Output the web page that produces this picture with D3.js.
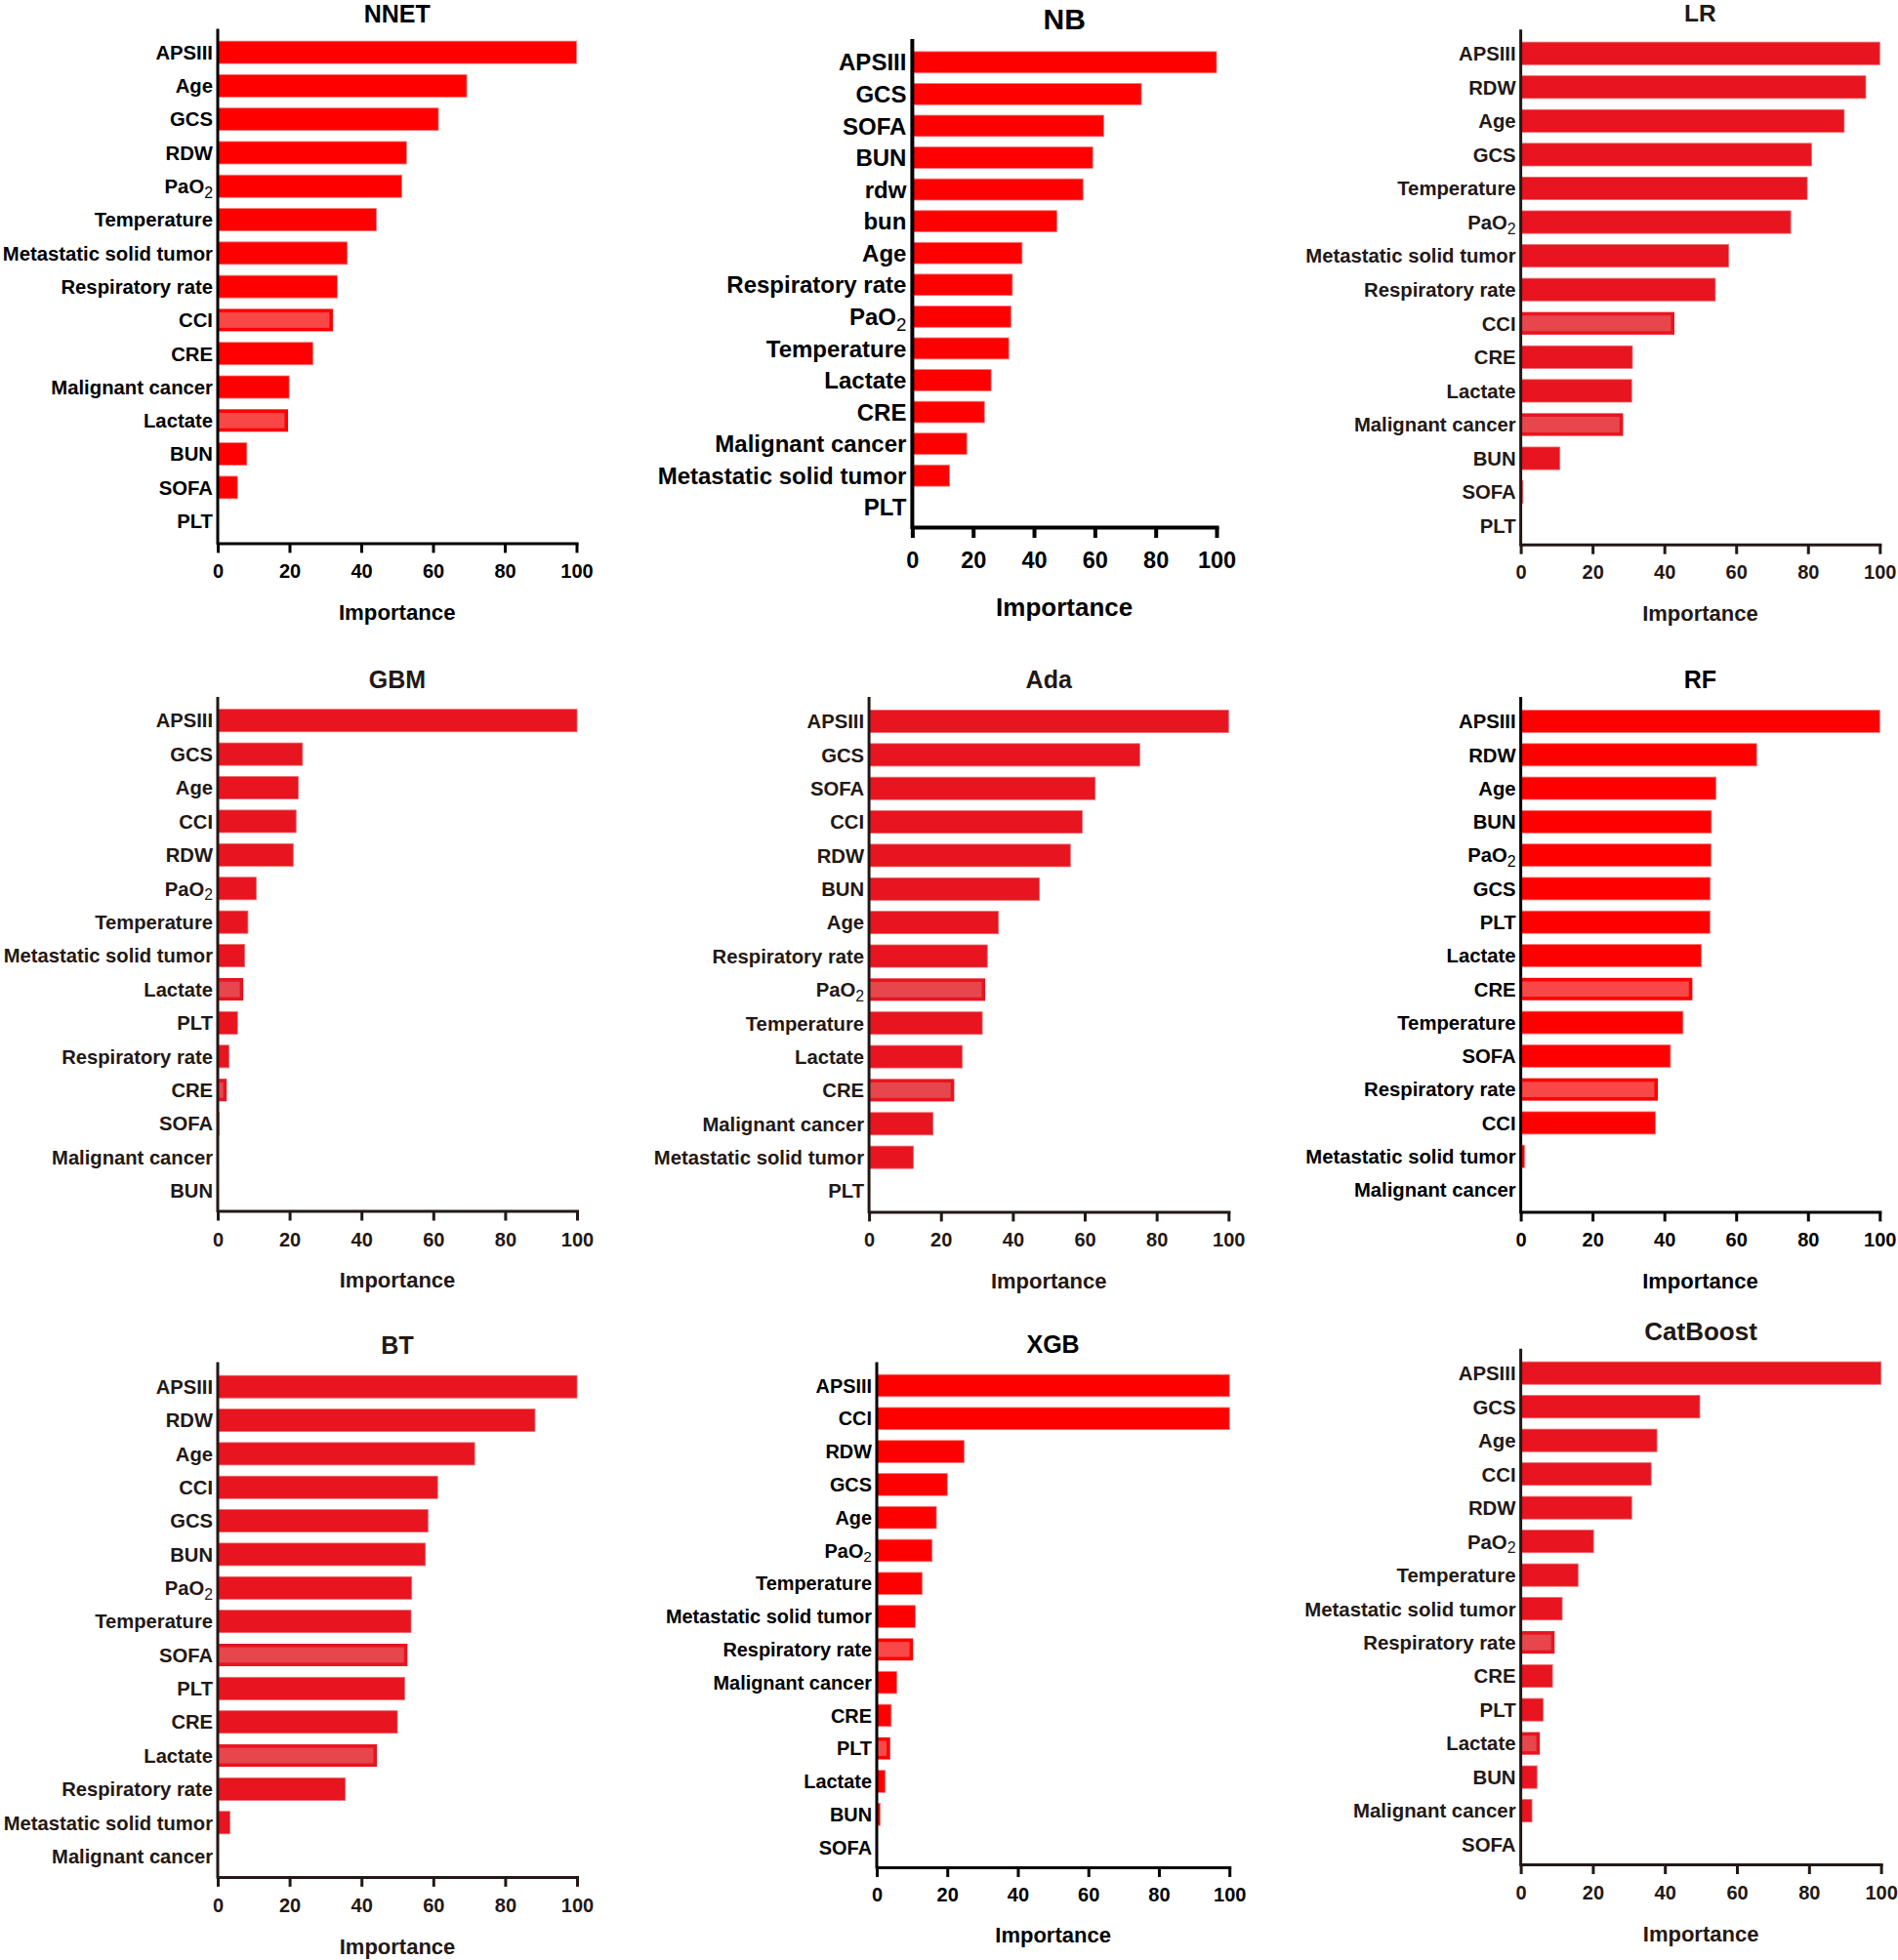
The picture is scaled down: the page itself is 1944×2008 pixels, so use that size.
<!DOCTYPE html>
<html>
<head>
<meta charset="utf-8">
<script src="https://cdn.jsdelivr.net/npm/d3@7/dist/d3.min.js"></script>
<style>
  html, body { margin: 0; padding: 0; background: #ffffff; }
  svg { display: block; }
</style>
</head>
<body>
<svg id="chart" width="1944" height="2008"></svg>
<script>
// ---------------- DATA ----------------
const xTicks = [0, 20, 40, 60, 80, 100];
const axisTitle = "Importance";

const nnetCategories = ["APSIII","Age","GCS","RDW","PaO2","Temperature","Metastatic solid tumor","Respiratory rate","CCI","CRE","Malignant cancer","Lactate","BUN","SOFA","PLT"];
const nnetValues     = [100, 69.4, 61.5, 52.6, 51.3, 44.2, 36.1, 33.3, 32.1, 26.5, 19.9, 19.6, 8.1, 5.5, 0];
const nnetLight      = ["CCI","Lactate"];

const nbCategories = ["APSIII","GCS","SOFA","BUN","rdw","bun","Age","Respiratory rate","PaO2","Temperature","Lactate","CRE","Malignant cancer","Metastatic solid tumor","PLT"];
const nbValues     = [100, 75.3, 62.9, 59.3, 56.1, 47.5, 36.1, 32.9, 32.4, 31.7, 25.9, 23.7, 17.9, 12.2, 0];
const nbLight      = [];

const lrCategories = ["APSIII","RDW","Age","GCS","Temperature","PaO2","Metastatic solid tumor","Respiratory rate","CCI","CRE","Lactate","Malignant cancer","BUN","SOFA","PLT"];
const lrValues     = [100, 96.1, 90.1, 81.0, 79.8, 75.2, 57.9, 54.2, 42.8, 31.1, 30.9, 28.5, 10.9, 0.6, 0];
const lrLight      = ["CCI","Malignant cancer"];

const gbmCategories = ["APSIII","GCS","Age","CCI","RDW","PaO2","Temperature","Metastatic solid tumor","Lactate","PLT","Respiratory rate","CRE","SOFA","Malignant cancer","BUN"];
const gbmValues     = [100, 23.6, 22.4, 21.8, 21.0, 10.7, 8.4, 7.5, 7.1, 5.5, 3.1, 2.5, 0.4, 0, 0];
const gbmLight      = ["Lactate","CRE"];

const adaCategories = ["APSIII","GCS","SOFA","CCI","RDW","BUN","Age","Respiratory rate","PaO2","Temperature","Lactate","CRE","Malignant cancer","Metastatic solid tumor","PLT"];
const adaValues     = [100, 75.3, 62.9, 59.3, 56.0, 47.4, 36.0, 32.9, 32.3, 31.5, 25.9, 23.7, 17.8, 12.3, 0];
const adaLight      = ["PaO2","CRE"];

const rfCategories = ["APSIII","RDW","Age","BUN","PaO2","GCS","PLT","Lactate","CRE","Temperature","SOFA","Respiratory rate","CCI","Metastatic solid tumor","Malignant cancer"];
const rfValues     = [100, 65.7, 54.4, 53.1, 53.0, 52.8, 52.7, 50.3, 47.8, 45.2, 41.7, 38.2, 37.5, 1.1, 0];
const rfLight      = ["CRE","Respiratory rate"];

const btCategories = ["APSIII","RDW","Age","CCI","GCS","BUN","PaO2","Temperature","SOFA","PLT","CRE","Lactate","Respiratory rate","Metastatic solid tumor","Malignant cancer"];
const btValues     = [100, 88.3, 71.5, 61.2, 58.5, 57.8, 54.0, 53.8, 52.8, 52.0, 50.0, 44.3, 35.5, 3.4, 0];
const btLight      = ["SOFA","Lactate"];

const xgbCategories = ["APSIII","CCI","RDW","GCS","Age","PaO2","Temperature","Metastatic solid tumor","Respiratory rate","Malignant cancer","CRE","PLT","Lactate","BUN","SOFA"];
const xgbValues     = [100, 100, 24.8, 20.0, 16.9, 15.7, 12.9, 10.9, 10.3, 5.7, 4.1, 3.8, 2.4, 1.0, 0];
const xgbLight      = ["Respiratory rate","PLT"];

const catCategories = ["APSIII","GCS","Age","CCI","RDW","PaO2","Temperature","Metastatic solid tumor","Respiratory rate","CRE","PLT","Lactate","BUN","Malignant cancer","SOFA"];
const catValues     = [100, 49.7, 37.8, 36.2, 30.8, 20.2, 15.9, 11.5, 9.4, 8.8, 6.2, 5.3, 4.5, 3.1, 0];
const catLight      = ["Respiratory rate","Lactate"];

// ---------------- STYLE ----------------
const FONT = "'Liberation Sans', Arial, Helvetica, sans-serif";
const schemes = {
  bright:  { bar: "#FF0000", edge: "#ff7a7a", light: "#F84747", ink: "#000000" },
  crimson: { bar: "#E8141F", edge: "#ef6b71", light: "#E8464D", ink: "#231815" }
};

// ---------------- LAYOUT ----------------
const panels = [
  { title: "NNET", cats: nnetCategories, vals: nnetValues, light: nnetLight, scheme: "bright",
    x0: 223, x100: 590.5, yTop: 29.5, xAxisY: 556.4, c0: 53.6, c14: 533.7,
    titleY: 13.8, tickY: 585, impY: 627, titleFs: 25, labFs: 20.3, tickFs: 20, impFs: 22.2, sw: 3, tick: 10, lpad: 5 },
  { title: "NB", cats: nbCategories, vals: nbValues, light: nbLight, scheme: "bright",
    x0: 934.4, x100: 1246, yTop: 40, xAxisY: 540, c0: 63.8, c14: 519.8,
    titleY: 18.9, tickY: 573.7, impY: 622, titleFs: 30, labFs: 24, tickFs: 23.5, impFs: 26, sw: 4, tick: 11, lpad: 6 },
  { title: "LR", cats: lrCategories, vals: lrValues, light: lrLight, scheme: "crimson",
    x0: 1557.6, x100: 1925.3, yTop: 30.3, xAxisY: 557.7, c0: 54.7, c14: 538.7,
    titleY: 13.5, tickY: 585.9, impY: 628.4, titleFs: 24.5, labFs: 20.3, tickFs: 20, impFs: 22, sw: 3, tick: 10, lpad: 5 },
  { title: "GBM", cats: gbmCategories, vals: gbmValues, light: gbmLight, scheme: "crimson",
    x0: 223, x100: 591, yTop: 714, xAxisY: 1240.5, c0: 738.2, c14: 1220,
    titleY: 695.6, tickY: 1269.6, impY: 1311, titleFs: 25, labFs: 20.2, tickFs: 20, impFs: 22, sw: 3, tick: 10, lpad: 5 },
  { title: "Ada", cats: adaCategories, vals: adaValues, light: adaLight, scheme: "crimson",
    x0: 890.1, x100: 1258.3, yTop: 714, xAxisY: 1241.4, c0: 739, c14: 1220,
    titleY: 696.5, tickY: 1269.6, impY: 1311.9, titleFs: 25, labFs: 20.3, tickFs: 20, impFs: 22, sw: 3, tick: 10, lpad: 5 },
  { title: "RF", cats: rfCategories, vals: rfValues, light: rfLight, scheme: "bright",
    x0: 1557.6, x100: 1925.3, yTop: 714, xAxisY: 1241.4, c0: 739, c14: 1219,
    titleY: 696.5, tickY: 1269.6, impY: 1311.9, titleFs: 25, labFs: 20.3, tickFs: 20, impFs: 22, sw: 3, tick: 10, lpad: 5 },
  { title: "BT", cats: btCategories, vals: btValues, light: btLight, scheme: "crimson",
    x0: 223, x100: 591, yTop: 1395.4, xAxisY: 1922.9, c0: 1420.7, c14: 1901.6,
    titleY: 1378.3, tickY: 1952.3, impY: 1994, titleFs: 25, labFs: 20.2, tickFs: 20, impFs: 22, sw: 3, tick: 10, lpad: 5 },
  { title: "XGB", cats: xgbCategories, vals: xgbValues, light: xgbLight, scheme: "bright",
    x0: 898, x100: 1259.2, yTop: 1395.4, xAxisY: 1913, c0: 1419.5, c14: 1892.6,
    titleY: 1377.5, tickY: 1940.8, impY: 1982.5, titleFs: 25, labFs: 19.9, tickFs: 20, impFs: 22, sw: 3, tick: 10, lpad: 5 },
  { title: "CatBoost", cats: catCategories, vals: catValues, light: catLight, scheme: "crimson",
    x0: 1557.6, x100: 1926.6, yTop: 1381.8, xAxisY: 1910, c0: 1406.7, c14: 1889.6,
    titleY: 1363.4, tickY: 1938.6, impY: 1981.2, titleFs: 26, labFs: 20.4, tickFs: 20, impFs: 22, sw: 3, tick: 10, lpad: 5 }
];

const svg = d3.select("#chart");

function drawPanel(p) {
  const sc = schemes[p.scheme];
  const g = svg.append("g").attr("font-family", FONT).attr("font-weight", "bold");
  const n = p.cats.length;
  const step = (p.c14 - p.c0) / (n - 1);
  const x = d3.scaleLinear().domain([0, 100]).range([p.x0, p.x100]);
  const y = d3.scaleBand().domain(p.cats)
    .range([p.c0 - step / 2, p.c14 + step / 2])
    .paddingInner(0.33).paddingOuter(0.165);
  const bw = y.bandwidth();
  const data = p.cats.map((c, i) => ({ c, v: p.vals[i], light: p.light.includes(c) }));

  // bars
  g.append("g").selectAll("rect.bar").data(data.filter(d => d.v > 0)).join("rect")
    .attr("class", "bar")
    .attr("x", x(0))
    .attr("y", d => y(d.c))
    .attr("width", d => x(d.v) - x(0))
    .attr("height", bw)
    .attr("fill", sc.bar)
    .attr("stroke", d => d.light ? "none" : sc.edge)
    .attr("stroke-width", 0.8);

  // lighter inner fill for highlighted bars
  const inset = 3.6;
  g.append("g").selectAll("rect.inner").data(data.filter(d => d.light && (x(d.v) - x(0)) > inset * 2)).join("rect")
    .attr("class", "inner")
    .attr("x", x(0))
    .attr("y", d => y(d.c) + inset)
    .attr("width", d => x(d.v) - x(0) - inset)
    .attr("height", bw - 2 * inset)
    .attr("fill", sc.light);

  // x axis
  const xa = g.append("g").attr("transform", `translate(0,${p.xAxisY})`)
    .call(d3.axisBottom(x).tickValues(xTicks).tickSize(p.tick).tickSizeOuter(0).tickFormat(d3.format("d")));
  xa.select(".domain").attr("stroke", sc.ink).attr("stroke-width", p.sw).attr("stroke-linecap", "square");
  xa.selectAll(".tick line").attr("stroke", sc.ink).attr("stroke-width", p.sw);
  xa.selectAll(".tick text")
    .attr("y", p.tickY - p.xAxisY).attr("dy", "0.36em")
    .attr("fill", sc.ink).attr("font-size", p.tickFs)
    .attr("font-family", FONT).attr("font-weight", "bold");

  // y axis spine
  g.append("line")
    .attr("x1", p.x0).attr("x2", p.x0)
    .attr("y1", p.yTop).attr("y2", p.xAxisY + p.sw / 2)
    .attr("stroke", sc.ink).attr("stroke-width", p.sw);

  // y labels
  const ya = g.append("g").attr("transform", `translate(${p.x0},0)`)
    .call(d3.axisLeft(y).tickSize(0).tickPadding(p.lpad));
  ya.select(".domain").remove();
  ya.selectAll(".tick text")
    .attr("fill", sc.ink).attr("font-size", p.labFs)
    .attr("font-family", FONT).attr("font-weight", "bold")
    .attr("dy", "0.36em")
    .each(function(d) {
      if (d === "PaO2") {
        const t = d3.select(this);
        t.text("PaO");
        t.append("tspan").attr("font-weight", "normal").attr("font-size", p.labFs * 0.78)
          .attr("dy", "0.3em").text("2");
      }
    });

  // title
  const cx = (p.x0 + p.x100) / 2;
  g.append("text").attr("x", cx).attr("y", p.titleY + 0.358 * p.titleFs)
    .attr("text-anchor", "middle").attr("font-size", p.titleFs).attr("fill", sc.ink)
    .text(p.title);

  // axis title
  g.append("text").attr("x", cx).attr("y", p.impY + 0.358 * p.impFs)
    .attr("text-anchor", "middle").attr("font-size", p.impFs).attr("fill", sc.ink)
    .text(axisTitle);
}

panels.forEach(drawPanel);
</script>
</body>
</html>
